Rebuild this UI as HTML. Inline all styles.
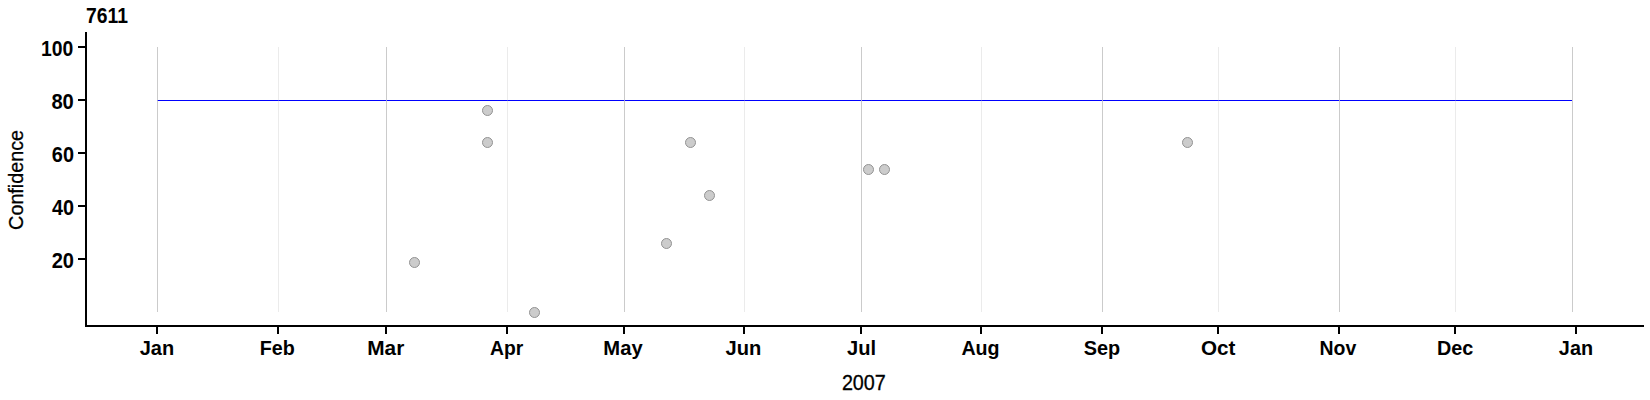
<!DOCTYPE html><html><head><meta charset="utf-8"><title>7611</title><style>html,body{margin:0;padding:0;background:#fff}svg{display:block}text{font-family:"Liberation Sans",Arial,sans-serif;fill:#000}.b{font-weight:bold}.r{stroke:#000;stroke-width:0.3px}</style></head><body>
<svg width="1650" height="400" viewBox="0 0 1650 400">
<rect width="1650" height="400" fill="#fff"/>
<g shape-rendering="crispEdges">
<rect x="157" y="100" width="1415" height="1" fill="#0000ff"/>
<rect x="157" y="47" width="1" height="265" fill="rgb(190,190,190)" fill-opacity="0.8"/>
<rect x="278" y="47" width="1" height="265" fill="rgb(190,190,190)" fill-opacity="0.3"/>
<rect x="386" y="47" width="1" height="265" fill="rgb(190,190,190)" fill-opacity="0.8"/>
<rect x="507" y="47" width="1" height="265" fill="rgb(190,190,190)" fill-opacity="0.3"/>
<rect x="624" y="47" width="1" height="265" fill="rgb(190,190,190)" fill-opacity="0.8"/>
<rect x="744" y="47" width="1" height="265" fill="rgb(190,190,190)" fill-opacity="0.3"/>
<rect x="861" y="47" width="1" height="265" fill="rgb(190,190,190)" fill-opacity="0.8"/>
<rect x="981" y="47" width="1" height="265" fill="rgb(190,190,190)" fill-opacity="0.3"/>
<rect x="1102" y="47" width="1" height="265" fill="rgb(190,190,190)" fill-opacity="0.8"/>
<rect x="1218" y="47" width="1" height="265" fill="rgb(190,190,190)" fill-opacity="0.3"/>
<rect x="1339" y="47" width="1" height="265" fill="rgb(190,190,190)" fill-opacity="0.8"/>
<rect x="1455" y="47" width="1" height="265" fill="rgb(190,190,190)" fill-opacity="0.3"/>
<rect x="1572" y="47" width="1" height="265" fill="rgb(190,190,190)" fill-opacity="0.8"/>
<rect x="85" y="32" width="2" height="295" fill="#000"/>
<rect x="85" y="325" width="1559" height="2" fill="#000"/>
<rect x="78" y="46" width="7" height="2" fill="#000"/>
<rect x="78" y="99" width="7" height="2" fill="#000"/>
<rect x="78" y="152" width="7" height="2" fill="#000"/>
<rect x="78" y="205" width="7" height="2" fill="#000"/>
<rect x="78" y="258" width="7" height="2" fill="#000"/>
<rect x="156" y="327" width="2" height="7" fill="#000"/>
<rect x="277" y="327" width="2" height="7" fill="#000"/>
<rect x="385" y="327" width="2" height="7" fill="#000"/>
<rect x="506" y="327" width="2" height="7" fill="#000"/>
<rect x="623" y="327" width="2" height="7" fill="#000"/>
<rect x="743" y="327" width="2" height="7" fill="#000"/>
<rect x="860" y="327" width="2" height="7" fill="#000"/>
<rect x="980" y="327" width="2" height="7" fill="#000"/>
<rect x="1101" y="327" width="2" height="7" fill="#000"/>
<rect x="1217" y="327" width="2" height="7" fill="#000"/>
<rect x="1338" y="327" width="2" height="7" fill="#000"/>
<rect x="1454" y="327" width="2" height="7" fill="#000"/>
<rect x="1575" y="327" width="2" height="7" fill="#000"/>
</g>
<circle cx="414.5" cy="262.5" r="5" fill="#cccccc" stroke="#939393" stroke-width="1"/>
<circle cx="487.5" cy="110.5" r="5" fill="#cccccc" stroke="#939393" stroke-width="1"/>
<circle cx="487.5" cy="142.5" r="5" fill="#cccccc" stroke="#939393" stroke-width="1"/>
<circle cx="534.5" cy="312.5" r="5" fill="#cccccc" stroke="#939393" stroke-width="1"/>
<circle cx="666.5" cy="243.5" r="5" fill="#cccccc" stroke="#939393" stroke-width="1"/>
<circle cx="690.5" cy="142.5" r="5" fill="#cccccc" stroke="#939393" stroke-width="1"/>
<circle cx="709.5" cy="195.5" r="5" fill="#cccccc" stroke="#939393" stroke-width="1"/>
<circle cx="868.5" cy="169.5" r="5" fill="#cccccc" stroke="#939393" stroke-width="1"/>
<circle cx="884.5" cy="169.5" r="5" fill="#cccccc" stroke="#939393" stroke-width="1"/>
<circle cx="1187.5" cy="142.5" r="5" fill="#cccccc" stroke="#939393" stroke-width="1"/>
<text class="b" transform="translate(106.97,22.8) scale(0.9065,1)" font-size="21.3" text-anchor="middle">7611</text>
<text class="b" transform="translate(57.15,55.7) scale(0.9093,1)" font-size="21.3" text-anchor="middle">100</text>
<text class="b" transform="translate(62.6,108.7) scale(0.9469,1)" font-size="21.3" text-anchor="middle">80</text>
<text class="b" transform="translate(62.9,161.7) scale(0.9333,1)" font-size="21.3" text-anchor="middle">60</text>
<text class="b" transform="translate(62.95,214.7) scale(0.9288,1)" font-size="21.3" text-anchor="middle">40</text>
<text class="b" transform="translate(62.8,267.7) scale(0.9423,1)" font-size="21.3" text-anchor="middle">20</text>
<text class="b" transform="translate(156.97,354.6) scale(0.9522,1)" font-size="21.0" text-anchor="middle">Jan</text>
<text class="b" transform="translate(277.23,354.6) scale(0.9379,1)" font-size="21.0" text-anchor="middle">Feb</text>
<text class="b" transform="translate(385.73,354.6) scale(0.9914,1)" font-size="21.0" text-anchor="middle">Mar</text>
<text class="b" transform="translate(506.57,354.6) scale(0.9208,1)" font-size="21.0" text-anchor="middle">Apr</text>
<text class="b" transform="translate(622.98,354.6) scale(0.9619,1)" font-size="21.0" text-anchor="middle">May</text>
<text class="b" transform="translate(743.38,354.6) scale(0.9577,1)" font-size="21.0" text-anchor="middle">Jun</text>
<text class="b" transform="translate(861.55,354.6) scale(0.9584,1)" font-size="21.0" text-anchor="middle">Jul</text>
<text class="b" transform="translate(980.48,354.6) scale(0.9363,1)" font-size="21.0" text-anchor="middle">Aug</text>
<text class="b" transform="translate(1102.0,354.6) scale(0.9479,1)" font-size="21.0" text-anchor="middle">Sep</text>
<text class="b" transform="translate(1218.15,354.6) scale(0.9834,1)" font-size="21.0" text-anchor="middle">Oct</text>
<text class="b" transform="translate(1337.88,354.6) scale(0.9257,1)" font-size="21.0" text-anchor="middle">Nov</text>
<text class="b" transform="translate(1455.12,354.6) scale(0.9438,1)" font-size="21.0" text-anchor="middle">Dec</text>
<text class="b" transform="translate(1575.97,354.6) scale(0.9464,1)" font-size="21.0" text-anchor="middle">Jan</text>
<text class="r" transform="translate(863.85,390.3) scale(0.907,1)" font-size="21.8" text-anchor="middle">2007</text>
<text class="r" transform="translate(23.1,179.9) rotate(-90) scale(0.946,1)" font-size="20.9" text-anchor="middle">Confidence</text>
</svg></body></html>
